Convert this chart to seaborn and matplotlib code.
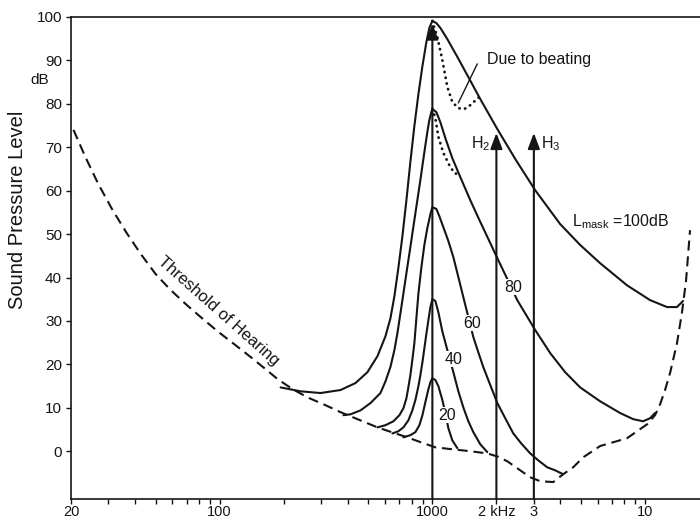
import numpy as np
import pandas as pd
import matplotlib
matplotlib.use("Agg")
import matplotlib.pyplot as plt
import seaborn as sns

# ---------------- data ----------------
thr_f = [20.55, 23.4, 26.9, 31.4, 36.6, 42.6, 50.0, 58.9, 69.2, 81.4, 97.9, 118.9,
         139.8, 164.4, 187.3, 220.1, 258.9, 314.6, 370.0, 459.2, 551.9, 670.3,
         763.1, 878.1, 1033, 1215, 1508, 1812, 2020, 2249, 2589, 2885, 3214,
         3700, 4121, 4592, 5117, 6149, 8233, 10218, 11140, 11763, 12414, 13105,
         14130, 14915, 15578, 16268]
thr_db = [74.0, 67.7, 61.5, 55.5, 50.2, 45.4, 40.8, 37.1, 33.9, 30.9, 27.6, 24.4,
          21.7, 18.9, 16.6, 14.3, 12.4, 10.6, 9.0, 7.1, 5.5, 4.1,
          3.2, 2.1, 0.9, 0.5, 0.0, -0.5, -1.2, -2.3, -4.4, -6.0, -6.9,
          -7.1, -5.3, -3.7, -1.4, 1.2, 3.0, 6.2, 8.3, 10.8, 14.1, 18.0,
          24.9, 32.0, 39.2, 50.9]

l100_f = [193.4, 240, 298, 370, 435, 495, 552, 602, 635, 663, 692, 723, 755, 788,
          823, 860, 898, 937, 968, 1000, 1044, 1090, 1176, 1311, 1460, 1680, 2020,
          2453, 3045, 3990, 4953, 6149, 8233, 10556, 12686, 14130, 15080]
l100_db = [14.7, 13.8, 13.4, 14.1, 15.7, 18.2, 21.9, 26.5, 30.6, 35.7, 42.2, 49.5,
           57.8, 66.6, 74.9, 82.3, 88.7, 94.2, 97.5, 99.1, 98.6, 97.5, 94.9, 90.8,
           86.6, 81.1, 74.2, 67.3, 60.1, 52.3, 47.5, 43.3, 38.2, 34.8, 33.2, 33.2,
           34.6]

l80_f = [382, 412, 459, 512, 570, 602, 635, 663, 685, 723, 755, 788, 832, 878, 917,
         947, 968, 989, 1000, 1044, 1090, 1151, 1241, 1354, 1508, 1680, 1873, 2041,
         2274, 2506, 3045, 3581, 4211, 4953, 6149, 7630, 8783, 9786, 10556, 11140]
l80_db = [8.3, 8.5, 9.4, 11.1, 13.4, 16.1, 19.4, 23.3, 27.2, 34.8, 41.0, 47.0, 54.8,
          62.4, 68.9, 73.5, 76.3, 78.1, 78.8, 78.1, 75.8, 72.1, 67.5, 63.1, 57.8,
          52.8, 47.9, 44.0, 39.2, 34.8, 27.9, 22.6, 18.2, 14.7, 11.5, 8.8, 7.4,
          6.9, 7.6, 8.8]

l60_f = [552, 602, 656, 700, 731, 755, 771, 788, 805, 823, 841, 860, 888, 917, 947,
         979, 1000, 1044, 1079, 1126, 1189, 1255, 1325, 1398, 1476, 1558, 1644,
         1735, 1873, 2020, 2201, 2401, 2617, 2885, 3146, 3467, 3780, 4121]
l60_db = [5.5, 6.0, 6.9, 8.3, 9.9, 12.2, 14.7, 17.5, 21.0, 24.9, 30.6, 36.4, 42.4,
          47.5, 51.4, 54.6, 56.2, 55.8, 54.1, 51.6, 48.4, 44.7, 40.1, 35.5, 30.9,
          26.3, 22.8, 19.4, 15.2, 11.1, 7.6, 4.1, 1.8, -0.5, -2.1, -3.7, -4.4,
          -5.3]

l40_f = [649, 692, 731, 771, 805, 832, 860, 878, 898, 917, 937, 958, 979, 1000,
         1033, 1067, 1114, 1176, 1255, 1325, 1398, 1476, 1558, 1680, 1812]
l40_db = [4.1, 4.6, 5.5, 7.1, 9.4, 11.8, 15.0, 17.5, 20.5, 23.7, 27.0, 30.2, 33.2,
          35.0, 34.6, 32.0, 27.6, 23.3, 18.2, 13.8, 10.1, 6.9, 4.4, 1.6, -0.2]

l20_f = [731, 788, 832, 869, 898, 927, 958, 979, 1000, 1033, 1067, 1114, 1151,
         1189, 1241, 1311]
l20_db = [3.2, 3.7, 4.4, 6.0, 8.3, 11.3, 14.3, 15.9, 16.8, 16.4, 15.0, 11.8, 8.8,
          5.3, 2.5, 0.7]

beat100_f = [1000, 1011, 1055, 1114, 1176, 1241, 1325, 1413, 1508, 1662]
beat100_db = [99.1, 98.2, 95.4, 90.1, 83.9, 80.4, 79.0, 78.8, 79.7, 81.6]

beat80_f = [1000, 1033, 1067, 1126, 1215, 1282, 1325]
beat80_db = [78.8, 76.7, 72.4, 68.7, 65.4, 63.9, 64.1]

pointer_f = [1626, 1324]
pointer_db = [89.2, 80.2]

arrow_f = [1000, 2000, 3000]
arrow_top = [98.5, 73.3, 73.3]

curve_labels = ["80", "60", "40", "20"]
curve_label_f = [2399, 1541, 1256, 1176]
curve_label_db = [37.8, 29.5, 21.2, 8.3]

xtick_vals = [20, 100, 1000, 2000, 3000, 10000]
xtick_text = ["20", "100", "1000", "2 kHz", "3", "10"]
ytick_vals = [0, 10, 20, 30, 40, 50, 60, 70, 80, 90, 100]

# ---------------- styling ----------------
sns.set_style("ticks")
plt.rcParams["font.family"] = ["Liberation Sans", "DejaVu Sans"]
plt.rcParams["mathtext.fontset"] = "custom"
plt.rcParams["mathtext.rm"] = "Liberation Sans"
plt.rcParams["mathtext.it"] = "Liberation Sans"
plt.rcParams["mathtext.default"] = "regular"

INK = "#151515"
fig = plt.figure(figsize=(7, 5.2), dpi=100)
ax = fig.add_axes([71 / 700, 21 / 520, 629 / 700, 482 / 520])
ax.set_xscale("log")

def draw(fs, dbs, **kw):
    d = pd.DataFrame({"f": fs, "db": dbs})
    sns.lineplot(data=d, x="f", y="db", ax=ax, estimator=None, sort=False,
                 color=INK, legend=False, **kw)

draw(thr_f, thr_db, linewidth=1.5, linestyle=(0, (4.8, 2.8)))
for fs, dbs in [(l100_f, l100_db), (l80_f, l80_db), (l60_f, l60_db),
                (l40_f, l40_db), (l20_f, l20_db)]:
    draw(fs, dbs, linewidth=1.5, solid_joinstyle="round")
for fs, dbs in [(beat100_f, beat100_db), (beat80_f, beat80_db)]:
    draw(fs, dbs, linewidth=2.0, linestyle=(0, (0.1, 2.0)), dash_capstyle="round")
draw(pointer_f, pointer_db, linewidth=1.0)

ax.set_xlim(20, 10 ** (np.log10(20) + 629 / 212.7))
ax.set_ylim(-11, 100)

# arrows
for f, top in zip(arrow_f, arrow_top):
    ax.annotate("", xy=(f, top), xytext=(f, -11),
                arrowprops=dict(arrowstyle="-|>,head_length=0.95,head_width=0.36",
                                color=INK, lw=1.5, shrinkA=0, shrinkB=0,
                                mutation_scale=10), zorder=5)

ax.annotate("H$_2$", xy=(2000, 70.8), xytext=(-4, 0), textcoords="offset points",
            ha="right", va="center", fontsize=11.5, color=INK)
ax.annotate("H$_3$", xy=(3000, 70.8), xytext=(5, 0), textcoords="offset points",
            ha="left", va="center", fontsize=11.5, color=INK)

for t, f, db in zip(curve_labels, curve_label_f, curve_label_db):
    ax.text(f, db, t, ha="center", va="center", fontsize=11.5, color=INK,
            bbox=dict(facecolor="white", edgecolor="none", pad=0.6), zorder=4)

ax.text(4540, 52.8, "L$_{mask}$ =100dB", ha="left", va="center", fontsize=11.5, color=INK)
ax.text(1812, 90.3, "Due to beating", ha="left", va="center", fontsize=11.5, color=INK)
ax.text(99, 32.2, "Threshold of Hearing", ha="center", va="center", rotation=-41.5,
        rotation_mode="anchor", fontsize=12, color=INK)

# axes
ax.set_xticks(xtick_vals)
ax.set_xticklabels(xtick_text)
ax.xaxis.set_minor_locator(matplotlib.ticker.LogLocator(base=10, subs=np.arange(2, 10)))
ax.xaxis.set_minor_formatter(matplotlib.ticker.NullFormatter())
ax.set_yticks(ytick_vals)
ax.tick_params(axis="both", which="both", direction="out", length=3.5, width=1,
               color=INK, labelcolor=INK)
ax.tick_params(axis="y", labelsize=11, pad=3)
ax.tick_params(axis="x", labelsize=10.5, pad=1)
ax.set_xlabel("")
ax.set_ylabel("Sound Pressure Level", fontsize=14.5, color=INK)
ax.yaxis.set_label_coords((27 - 71) / 629, (499 - 210) / 482)
ax.text(-31 / 629, 85.5, "dB", transform=ax.get_yaxis_transform(), ha="center",
        va="center", fontsize=11, color=INK)

for s in ["left", "bottom", "top"]:
    ax.spines[s].set_color(INK)
    ax.spines[s].set_linewidth(1.2)
ax.spines["right"].set_visible(False)

fig.savefig("out.png", dpi=100, facecolor="white")
